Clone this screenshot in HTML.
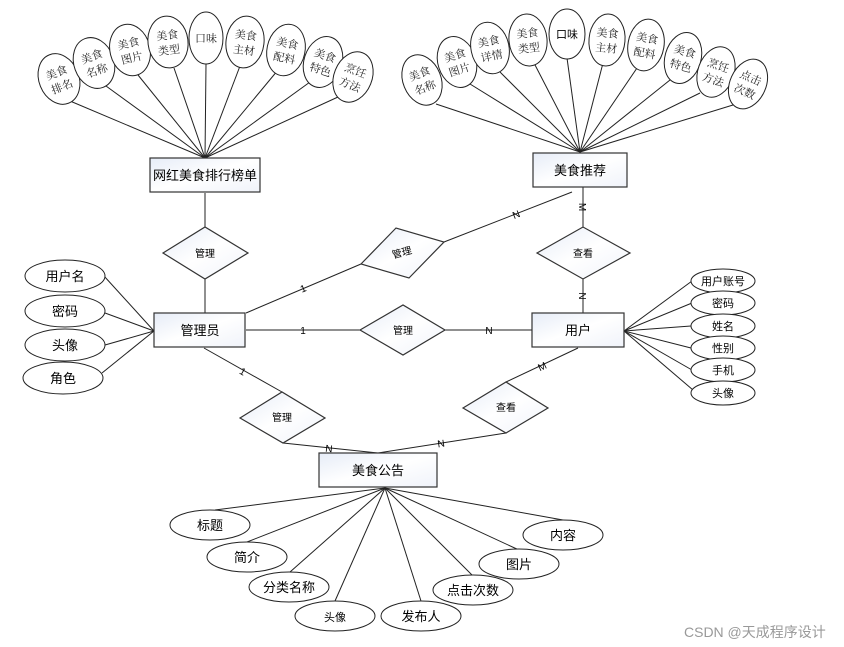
<!DOCTYPE html>
<html><head><meta charset="utf-8"><style>
html,body{margin:0;padding:0;background:#fff;}
svg{display:block;font-family:"Liberation Sans","Noto Sans CJK SC",sans-serif;}
.s{font-family:"Liberation Serif","Noto Serif CJK SC",serif;font-size:11px;fill:#222;}
</style></head><body>
<svg width="844" height="647" viewBox="0 0 844 647" xmlns="http://www.w3.org/2000/svg">
<defs><linearGradient id="g" x1="0" y1="0" x2="1" y2="1"><stop offset="0" stop-color="#e6ecf7"/><stop offset="0.5" stop-color="#ffffff"/><stop offset="1" stop-color="#f0f3fa"/></linearGradient></defs>
<g stroke="#222" stroke-width="1" fill="none">
<line x1="205" y1="158" x2="70" y2="101"/><line x1="205" y1="158" x2="106" y2="86"/>
<line x1="205" y1="158" x2="138" y2="75"/><line x1="205" y1="158" x2="174" y2="68"/>
<line x1="205" y1="158" x2="206" y2="64"/><line x1="205" y1="158" x2="240" y2="66"/>
<line x1="205" y1="158" x2="278" y2="70"/><line x1="205" y1="158" x2="310" y2="82"/>
<line x1="205" y1="158" x2="338" y2="97"/>
<line x1="580" y1="152" x2="436" y2="104"/><line x1="580" y1="152" x2="470" y2="84"/>
<line x1="580" y1="152" x2="500" y2="72"/><line x1="580" y1="152" x2="534" y2="63"/>
<line x1="580" y1="152" x2="567" y2="58"/><line x1="580" y1="152" x2="603" y2="63"/>
<line x1="580" y1="152" x2="637" y2="68"/><line x1="580" y1="152" x2="670" y2="80"/>
<line x1="580" y1="152" x2="700" y2="93"/><line x1="580" y1="152" x2="733" y2="105"/>
<line x1="205" y1="193" x2="205" y2="313"/>
<line x1="246" y1="313" x2="361" y2="264"/>
<line x1="444" y1="242" x2="572" y2="192"/>
<line x1="583" y1="187" x2="583" y2="313"/>
<line x1="246" y1="330" x2="532" y2="330"/>
<line x1="204" y1="348" x2="282" y2="392"/>
<line x1="283" y1="443" x2="378" y2="453"/>
<line x1="578" y1="348" x2="506" y2="382"/>
<line x1="506" y1="433" x2="378" y2="453"/>
<line x1="154" y1="331" x2="104" y2="276"/><line x1="154" y1="331" x2="105" y2="313"/>
<line x1="154" y1="331" x2="105" y2="345"/><line x1="154" y1="331" x2="102" y2="373"/>
<line x1="624" y1="331" x2="692" y2="281"/><line x1="624" y1="331" x2="692" y2="303"/>
<line x1="624" y1="331" x2="691" y2="326"/><line x1="624" y1="331" x2="691" y2="348"/>
<line x1="624" y1="331" x2="692" y2="370"/><line x1="624" y1="331" x2="693" y2="390"/>
<line x1="385" y1="488" x2="215" y2="510"/><line x1="385" y1="488" x2="247" y2="542"/>
<line x1="385" y1="488" x2="290" y2="572"/><line x1="385" y1="488" x2="335" y2="601"/>
<line x1="385" y1="488" x2="421" y2="601"/><line x1="385" y1="488" x2="473" y2="576"/>
<line x1="385" y1="488" x2="519" y2="550"/><line x1="385" y1="488" x2="563" y2="520"/>
</g>
<g fill="#fff" stroke="#222" stroke-width="1">
<g transform="translate(59,79) rotate(-22)"><ellipse rx="20" ry="26"/></g>
<g transform="translate(94,63) rotate(-20)"><ellipse rx="20" ry="26"/></g>
<g transform="translate(130,50) rotate(-14)"><ellipse rx="20" ry="26"/></g>
<g transform="translate(168,42) rotate(-7)"><ellipse rx="20" ry="26"/></g>
<g transform="translate(206,38)"><ellipse rx="17" ry="26"/></g>
<g transform="translate(245,42) rotate(7)"><ellipse rx="19" ry="26"/></g>
<g transform="translate(286,50) rotate(12)"><ellipse rx="19" ry="26"/></g>
<g transform="translate(323,62) rotate(18)"><ellipse rx="19" ry="26"/></g>
<g transform="translate(353,77) rotate(22)"><ellipse rx="19" ry="26"/></g>
<g transform="translate(422,80) rotate(-22)"><ellipse rx="19" ry="26"/></g>
<g transform="translate(457,62) rotate(-18)"><ellipse rx="19" ry="26"/></g>
<g transform="translate(490,48) rotate(-12)"><ellipse rx="19" ry="26"/></g>
<g transform="translate(528,40) rotate(-6)"><ellipse rx="19" ry="26"/></g>
<g transform="translate(567,34)"><ellipse rx="18" ry="25"/></g>
<g transform="translate(607,40) rotate(5)"><ellipse rx="18" ry="26"/></g>
<g transform="translate(646,45) rotate(10)"><ellipse rx="18" ry="26"/></g>
<g transform="translate(683,58) rotate(16)"><ellipse rx="18" ry="26"/></g>
<g transform="translate(716,72) rotate(20)"><ellipse rx="18" ry="26"/></g>
<g transform="translate(748,84) rotate(24)"><ellipse rx="18" ry="26"/></g>
<ellipse cx="65" cy="276" rx="40" ry="16"/><ellipse cx="65" cy="311" rx="40" ry="16"/>
<ellipse cx="65" cy="345" rx="40" ry="16"/><ellipse cx="63" cy="378" rx="40" ry="16"/>
<ellipse cx="723" cy="281" rx="32" ry="12"/><ellipse cx="723" cy="303" rx="32" ry="12"/>
<ellipse cx="723" cy="326" rx="32" ry="12"/><ellipse cx="723" cy="348" rx="32" ry="12"/>
<ellipse cx="723" cy="370" rx="32" ry="12"/><ellipse cx="723" cy="393" rx="32" ry="12"/>
<ellipse cx="210" cy="525" rx="40" ry="15"/><ellipse cx="247" cy="557" rx="40" ry="15"/>
<ellipse cx="289" cy="587" rx="40" ry="15"/><ellipse cx="335" cy="616" rx="40" ry="15"/>
<ellipse cx="421" cy="616" rx="40" ry="15"/><ellipse cx="473" cy="590" rx="40" ry="15"/>
<ellipse cx="519" cy="564" rx="40" ry="15"/><ellipse cx="563" cy="535" rx="40" ry="15"/>
</g>
<g fill="url(#g)" stroke="#333" stroke-width="1.2">
<rect x="150" y="158" width="110" height="34"/>
<rect x="533" y="153" width="94" height="34"/>
<rect x="154" y="313" width="91" height="34"/>
<rect x="532" y="313" width="92" height="34"/>
<rect x="319" y="453" width="118" height="34"/>
<polygon points="163,253 205,227 248,253 205,279"/>
<polygon points="361,264 396,228 444,242 409,278"/>
<polygon points="537,253 583,227 630,253 583,279"/>
<polygon points="360,330 403,305 445,330 403,355"/>
<polygon points="240,418 282,392 325,418 283,443"/>
<polygon points="463,408 506,382 548,408 506,433"/>
</g>
<g class="s" text-anchor="middle">
<g transform="translate(59,79) rotate(-22)"><text y="-3">美食</text><text y="12">排名</text></g>
<g transform="translate(94,63) rotate(-20)"><text y="-3">美食</text><text y="12">名称</text></g>
<g transform="translate(130,50) rotate(-14)"><text y="-3">美食</text><text y="12">图片</text></g>
<g transform="translate(168,42) rotate(-7)"><text y="-3">美食</text><text y="12">类型</text></g>
<g transform="translate(206,38)"><text y="4">口味</text></g>
<g transform="translate(245,42) rotate(7)"><text y="-3">美食</text><text y="12">主材</text></g>
<g transform="translate(286,50) rotate(12)"><text y="-3">美食</text><text y="12">配料</text></g>
<g transform="translate(323,62) rotate(18)"><text y="-3">美食</text><text y="12">特色</text></g>
<g transform="translate(353,77) rotate(22)"><text y="-3">烹饪</text><text y="12">方法</text></g>
<g transform="translate(422,80) rotate(-22)"><text y="-3">美食</text><text y="12">名称</text></g>
<g transform="translate(457,62) rotate(-18)"><text y="-3">美食</text><text y="12">图片</text></g>
<g transform="translate(490,48) rotate(-12)"><text y="-3">美食</text><text y="12">详情</text></g>
<g transform="translate(528,40) rotate(-6)"><text y="-3">美食</text><text y="12">类型</text></g>
<g transform="translate(567,34)"><text y="4" style="font-family:'Liberation Sans','Noto Sans CJK SC',sans-serif;fill:#000">口味</text></g>
<g transform="translate(607,40) rotate(5)"><text y="-3">美食</text><text y="12">主材</text></g>
<g transform="translate(646,45) rotate(10)"><text y="-3">美食</text><text y="12">配料</text></g>
<g transform="translate(683,58) rotate(16)"><text y="-3">美食</text><text y="12">特色</text></g>
<g transform="translate(716,72) rotate(20)"><text y="-3">烹饪</text><text y="12">方法</text></g>
<g transform="translate(748,84) rotate(24)"><text y="-3">点击</text><text y="12">次数</text></g>
</g>
<g text-anchor="middle" fill="#000" font-size="13">
<text x="205" y="180">网红美食排行榜单</text>
<text x="580" y="175">美食推荐</text>
<text x="200" y="335">管理员</text>
<text x="578" y="335">用户</text>
<text x="378" y="475">美食公告</text>
</g>
<g text-anchor="middle" fill="#000" font-size="10">
<text x="205" y="257">管理</text>
<text x="402" y="256" transform="rotate(-15 402 253)">管理</text>
<text x="583" y="257">查看</text>
<text x="403" y="334">管理</text>
<text x="282" y="421">管理</text>
<text x="506" y="411">查看</text>
<text x="303" y="292" transform="rotate(-22 303 288)">1</text>
<text x="516" y="218" transform="rotate(-22 516 214)">N</text>
<text x="583" y="211" transform="rotate(90 583 207)">M</text>
<text x="583" y="300" transform="rotate(90 583 296)">N</text>
<text x="303" y="334">1</text>
<text x="489" y="334">N</text>
<text x="243" y="375" transform="rotate(30 243 371)">1</text>
<text x="329" y="452" transform="rotate(6 329 448)">N</text>
<text x="542" y="370" transform="rotate(-25 542 366)">M</text>
<text x="441" y="447" transform="rotate(-9 441 443)">N</text>
</g>
<g text-anchor="middle" fill="#000" font-size="13">
<text x="65" y="281">用户名</text><text x="65" y="316">密码</text>
<text x="65" y="350">头像</text><text x="63" y="383">角色</text>
<text x="210" y="530">标题</text><text x="247" y="562">简介</text>
<text x="289" y="592">分类名称</text><text x="335" y="621" font-size="11">头像</text>
<text x="421" y="621">发布人</text><text x="473" y="595">点击次数</text>
<text x="519" y="569">图片</text><text x="563" y="540">内容</text>
</g>
<g text-anchor="middle" fill="#000" font-size="11">
<text x="723" y="285">用户账号</text><text x="723" y="307">密码</text>
<text x="723" y="330">姓名</text><text x="723" y="352">性别</text>
<text x="723" y="374">手机</text><text x="723" y="397">头像</text>
</g>
<text x="684" y="637" font-size="14" fill="#999">CSDN @天成程序设计</text>
</svg>
</body></html>
